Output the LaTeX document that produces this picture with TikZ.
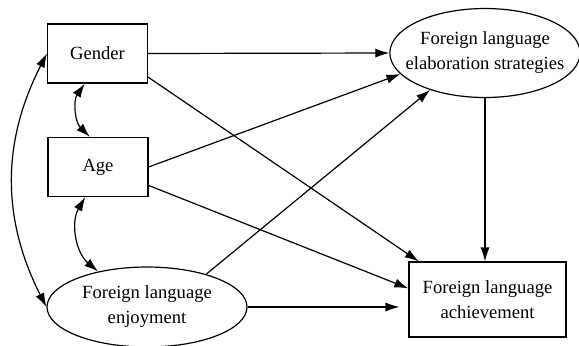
\documentclass[tikz,border=0pt]{standalone}
\usepackage{fontspec}
\setmainfont{Liberation Serif}
\usetikzlibrary{arrows.meta, shapes.geometric}

\begin{document}
\begin{tikzpicture}[x=0.5pt, y=-0.5pt, >={Latex[length=7pt,width=4.6pt]},
  var/.style={draw, semithick, align=center, minimum width=50pt, minimum height=29.5pt,
    font=\fontsize{9.3}{12.5}\selectfont},
  latent/.style={ellipse, draw, semithick, align=center, inner sep=0pt,
    font=\fontsize{9.3}{12.5}\selectfont},
  path/.style={->, semithick},
  cov/.style={<->, semithick}]
  \useasboundingbox (0,0) rectangle (579,345);
  % observed and latent variables
  \node[var] (gender) at (97.5,53.5) {Gender};
  \node[var] (age) at (98,167) {Age};
  \node[latent, minimum width=100pt, minimum height=40pt] (enjoy) at (147,307) {Foreign language\\enjoyment};
  \node[latent, inner xsep=-6pt, minimum width=95pt, minimum height=44.5pt] (elab) at (485,53) {Foreign language\\elaboration strategies};
  \node[var, minimum width=78.5pt, minimum height=37.5pt] (achieve) at (487.5,299.5) {Foreign language\\achievement};
  % paths to elaboration strategies
  \draw[path] (gender.east) -- (elab.west);
  \draw[path] (age.east) -- (elab.194);
  \draw[path] (enjoy.29) -- (elab.214);
  % paths to achievement
  \draw[path] (gender.-25) -- (achieve.151);
  \draw[path] (age.-20) -- (achieve.172);
  \draw[path, shorten >=4.5pt] (enjoy.east) -- (enjoy.east -| achieve.west);
  \draw[path] (elab.south) -- (elab.south |- achieve.north);
  % covariances
  \draw[cov] (gender.247) to[bend right=40] (age.105);
  \draw[cov] (age.247) to[bend right=40] (enjoy.144);
  \draw[cov] (gender.west) to[bend right=27] (enjoy.west);
\end{tikzpicture}
\end{document}
